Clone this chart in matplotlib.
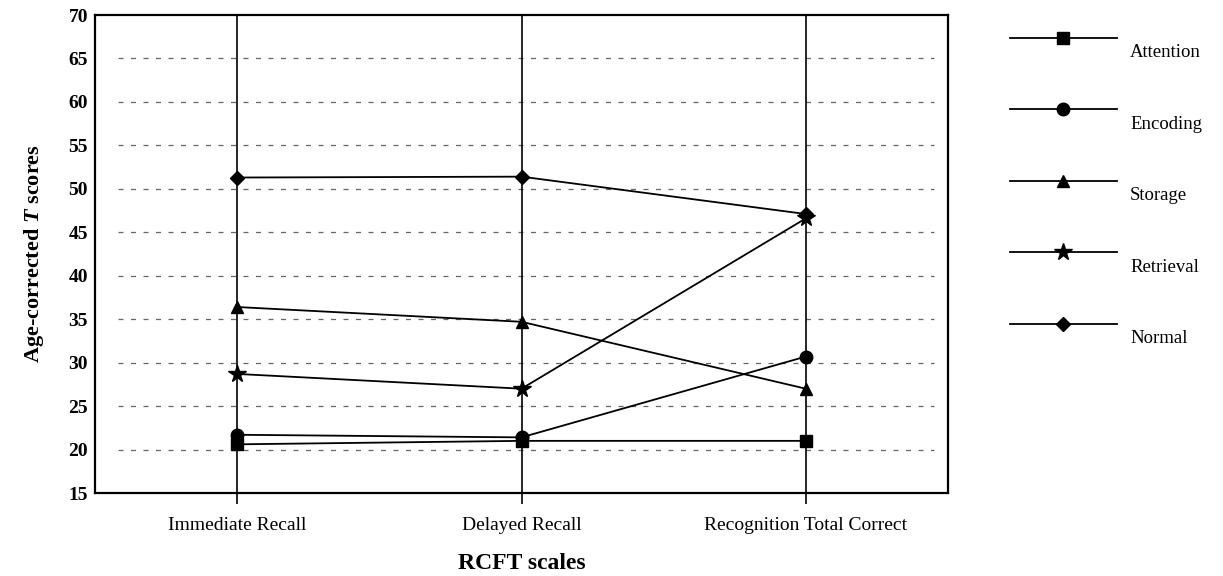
import matplotlib
matplotlib.use("Agg")
import matplotlib.pyplot as plt
import numpy as np

plt.rcParams['font.family'] = ['Liberation Serif', 'DejaVu Serif']
plt.rcParams['mathtext.fontset'] = 'custom'
plt.rcParams['mathtext.it'] = 'Liberation Serif:bold:italic'
plt.rcParams['mathtext.rm'] = 'Liberation Serif:bold'

categories = ["Immediate Recall", "Delayed Recall", "Recognition Total Correct"]
attention = [20.6, 21.0, 21.0]
encoding = [21.7, 21.4, 30.7]
storage = [36.4, 34.7, 27.0]
retrieval = [28.7, 27.0, 46.6]
normal = [51.3, 51.4, 47.1]
series_names = ["Attention", "Encoding", "Storage", "Retrieval", "Normal"]
yticks = [15, 20, 25, 30, 35, 40, 45, 50, 55, 60, 65, 70]
grid_levels = [20, 25, 30, 35, 40, 45, 50, 55, 60, 65]

W, H = 1223, 576
fig = plt.figure(figsize=(W / 100, H / 100), dpi=100)
ax = fig.add_axes([95 / W, (H - 493) / H, (948 - 95) / W, (493 - 15) / H])

x = np.arange(len(categories))

# dashed horizontal guides
ax.hlines(grid_levels, -0.42, 2.45, colors='#666666', linestyles=(0, (4, 6)),
          linewidth=0.9, zorder=1)
# solid vertical lines at categories
for xi in x:
    ax.axvline(xi, color='black', linewidth=1.2, zorder=1)

markers = ['s', 'o', '^', '*', 'D']
sizes = [8, 9, 9, 13, 7]
data = [attention, encoding, storage, retrieval, normal]
handles = []
for name, vals, m, s in zip(series_names, data, markers, sizes):
    h, = ax.plot(x, vals, color='black', linewidth=1.3, marker=m,
                 markersize=s, markerfacecolor='black', markeredgecolor='black',
                 label=name, zorder=3)
    handles.append(h)

ax.set_xlim(-0.5, 2.5)
ax.set_ylim(15, 70)
ax.set_yticks(yticks)
ax.set_yticklabels([str(v) for v in yticks], fontsize=14, fontweight='bold')
ax.set_xticks(x)
ax.set_xticklabels(categories, fontsize=14)
ax.tick_params(axis='y', length=0, pad=5)
ax.tick_params(axis='x', length=8, width=1.2, direction='out', pad=9)
for sp in ax.spines.values():
    sp.set_linewidth(1.6)
    sp.set_color('black')

ax.set_ylabel(r"Age-corrected $T$ scores", fontsize=16, fontweight='bold', labelpad=16)
ax.set_xlabel("RCFT scales", fontsize=17, fontweight='bold', labelpad=14)

leg = fig.legend(handles=handles, labels=series_names, loc='upper left',
                 bbox_to_anchor=(1010 / W, 1 - 31 / H), frameon=False,
                 fontsize=13.5, handlelength=5.7, handletextpad=0.7,
                 labelspacing=2.9, borderpad=0, borderaxespad=0, numpoints=1)
for t in leg.get_texts():
    t.set_va('top')

fig.savefig("out.png", dpi=100)
